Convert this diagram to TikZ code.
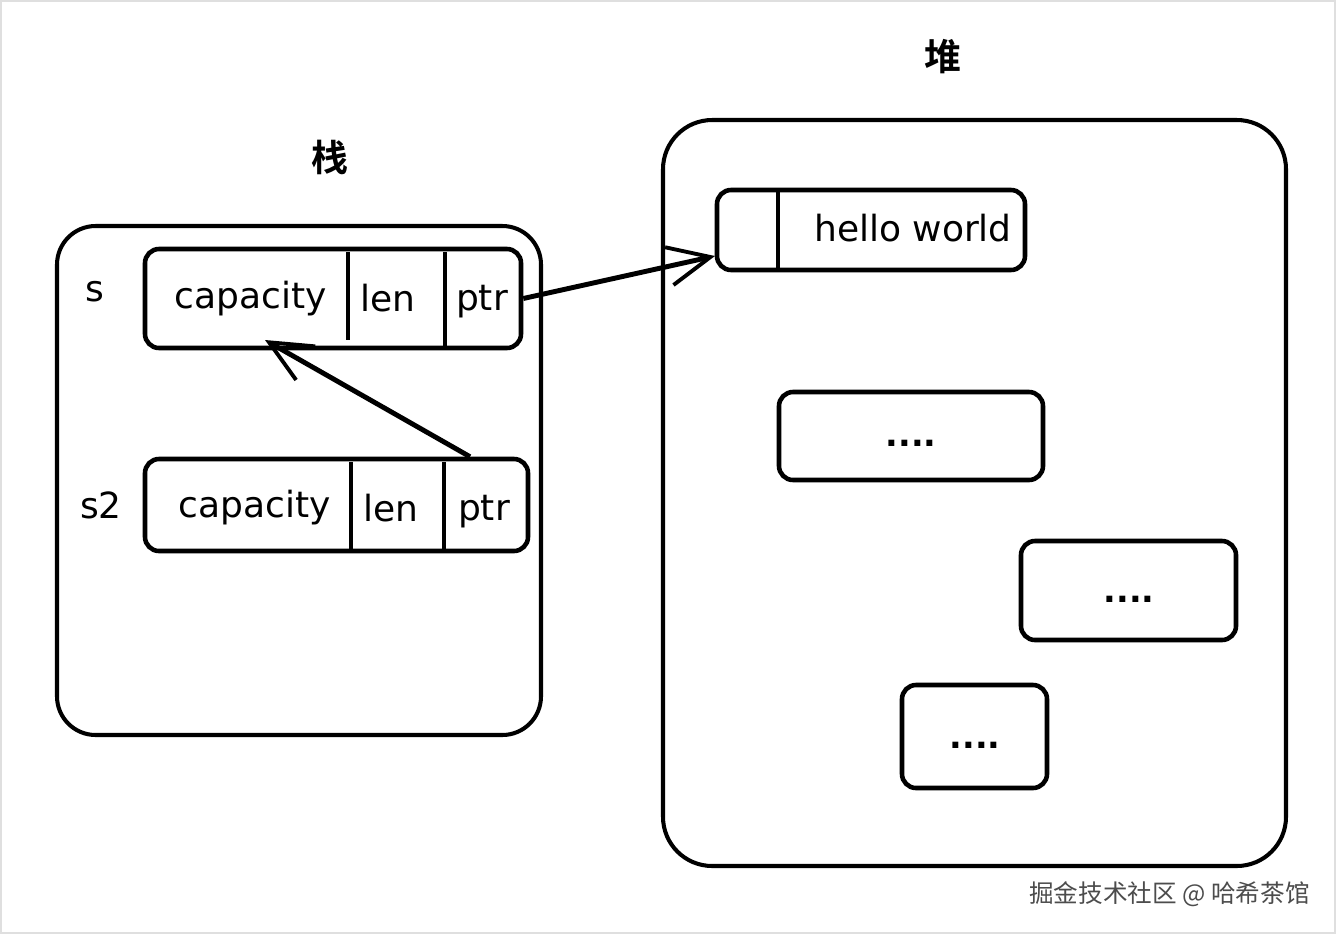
\documentclass[tikz,border=0pt]{standalone}
\usepackage{fontspec}
\setmainfont{DejaVu Sans}
\newfontfamily\cjk{Noto Sans CJK SC}
\newfontfamily\cjkb{Noto Sans CJK SC Bold}
\usetikzlibrary{arrows.meta}
\tikzset{
  panel/.style={draw=black, line width=2.3pt, rounded corners=22pt},
  cellbox/.style={draw=black, line width=2.6pt, rounded corners=8pt},
  divider/.style={draw=black, line width=2pt},
  lbl/.style={font=\fontsize{20.5}{24}\selectfont, inner sep=0pt, anchor=base},
  dots/.style={font=\bfseries\fontsize{19}{22}\selectfont, inner sep=0pt, anchor=base},
  title/.style={font=\cjkb\fontsize{21}{24}\selectfont, inner sep=0pt},
  conn/.style={draw=black, line width=2.8pt, -{Straight Barb[length=24pt, width=22pt, line width=2.2pt]}},
}
\begin{document}
\begin{tikzpicture}[x=0.02cm, y=-0.02cm]
\useasboundingbox (0,0) rectangle (1336,934);
\draw[gray!25, line width=0.8pt] (1,1) rectangle (1335,933);

% stack
\node[title] (stacklbl) at (330,157) {栈};
\draw[panel] (57,226) rectangle (541,735);
\node[lbl] (slbl) at (95,301) {s};
\node[cellbox, minimum width=376*0.02cm, minimum height=99*0.02cm] (sbox) at (333,298.5) {};
\draw[divider] (348,252) -- (348,340);
\draw[divider] (445,252) -- (445,348);
\node[lbl] (scap) at (251,308) {capacity};
\node[lbl] (slen) at (388,311) {len};
\node[lbl] (sptr) at (482,310) {ptr};

\node[lbl] (s2lbl) at (101,518) {s2};
\node[cellbox, minimum width=383*0.02cm, minimum height=92*0.02cm] (s2box) at (336.5,505) {};
\draw[divider] (351,462) -- (351,551);
\draw[divider] (444,462) -- (444,551);
\node[lbl] (s2cap) at (255,517) {capacity};
\node[lbl] (s2len) at (391,521) {len};
\node[lbl] (s2ptr) at (484,520) {ptr};

% heap
\node[title] (heaplbl) at (943,57) {堆};
\draw[panel, rounded corners=28pt] (663,120) rectangle (1286,866);
\node[cellbox, minimum width=308*0.02cm, minimum height=80*0.02cm] (hw) at (871,230) {};
\draw[divider] (778,192) -- (778,272);
\node[lbl] (hwtxt) at (913,241) {hello world};
\node[cellbox, minimum width=264*0.02cm, minimum height=88*0.02cm] (d1) at (911,436) {};
\node[dots] (d1t) at (911,446) {....};
\node[cellbox, minimum width=215*0.02cm, minimum height=99*0.02cm] (d2) at (1128.5,590.5) {};
\node[dots] (d2t) at (1129,602) {....};
\node[cellbox, minimum width=145*0.02cm, minimum height=103*0.02cm] (d3) at (974.5,736.5) {};
\node[dots] (d3t) at (975,748) {....};

% connectors
\coordinate (a1s) at (s2box.north -| 470,0);
\coordinate (a1e) at (265,340);
\draw[conn] (a1s) -- (a1e);
\coordinate (a2s) at (sbox.east);
\coordinate (a2e) at (715,256);
\draw[conn] (a2s) -- (a2e);

% watermark
\node[font=\cjk\fontsize{14}{16}\selectfont, text=gray!60!black, anchor=east, inner sep=0pt] (wm) at (1310,894) {掘金技术社区 @ 哈希茶馆};
\end{tikzpicture}
\end{document}
